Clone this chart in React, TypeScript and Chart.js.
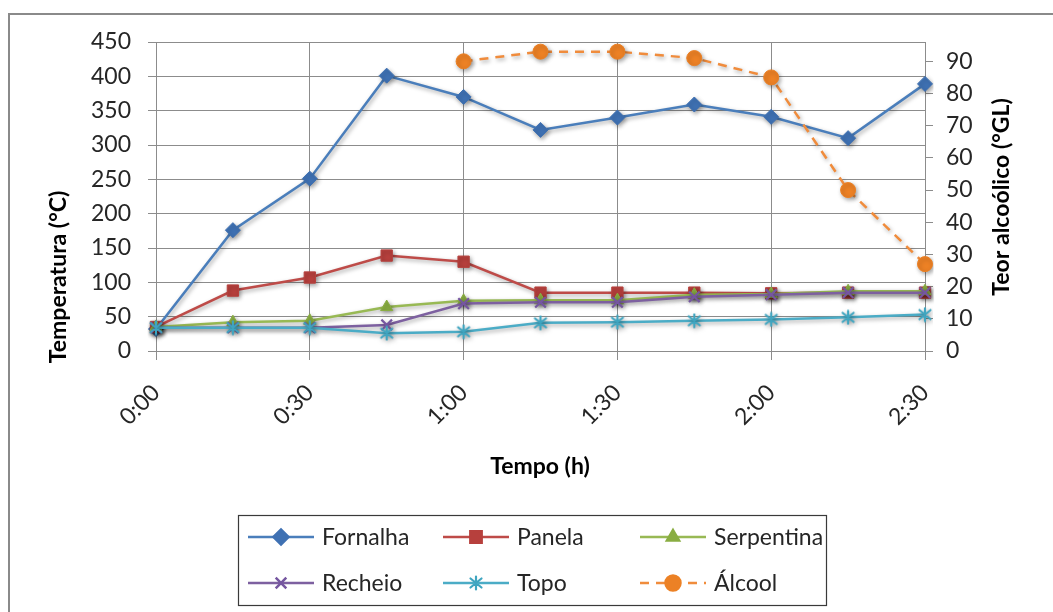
import React, { useEffect, useRef } from 'react';
import { Chart, registerables } from 'chart.js';
import { drawPoint } from 'chart.js/helpers';

Chart.register(...registerables);

const timeLabels = ['0:00', '0:15', '0:30', '0:45', '1:00', '1:15', '1:30', '1:45', '2:00', '2:15', '2:30'];
const fornalha = [32, 176, 251, 401, 370, 322, 340, 359, 341, 310, 389];
const panela = [35, 88, 107, 139, 130, 85, 85, 85, 84, 85, 85];
const serpentina = [35, 42, 44, 64, 73, 74, 74, 82, 83, 87, 87];
const recheio = [34, 34, 34, 38, 69, 71, 71, 79, 82, 85, 85];
const topo = [34, 34, 34, 26, 28, 41, 42, 44, 46, 49, 53];
const alcool = [null, null, null, null, 90, 93, 93, 91, 85, 50, 27];

const leftTicks = { min: 0, max: 450, step: 50 };
const rightTicks = { min: 0, max: 96, step: 10, lastLabel: 90 };

const FONT = 'Lato, "Noto Sans", sans-serif';
const GRID = '#8c8c8c';

function makeAsterisk(color: string): HTMLCanvasElement {
  const c = document.createElement('canvas');
  c.width = 16;
  c.height = 16;
  const g = c.getContext('2d')!;
  g.strokeStyle = color;
  g.lineWidth = 2.2;
  g.lineCap = 'round';
  g.beginPath();
  g.moveTo(8, 1.5); g.lineTo(8, 14.5);
  g.moveTo(2.5, 3.5); g.lineTo(13.5, 12.5);
  g.moveTo(13.5, 3.5); g.lineTo(2.5, 12.5);
  g.stroke();
  return c;
}

export default function App() {
  const ref = useRef<HTMLCanvasElement>(null);

  useEffect(() => {
    document.body.style.margin = '0';
    const canvas = ref.current!;
    const star = makeAsterisk('#3fa5c0');

    const frame = {
      id: 'frame',
      beforeDraw(chart: any) {
        const ctx = chart.ctx;
        ctx.save();
        ctx.fillStyle = '#ffffff';
        ctx.fillRect(0, 0, chart.width, chart.height);
        ctx.strokeStyle = '#8a8a8a';
        ctx.lineWidth = 2;
        ctx.beginPath();
        ctx.moveTo(9, chart.height + 5);
        ctx.lineTo(9, 14);
        ctx.lineTo(chart.width + 5, 14);
        ctx.stroke();
        ctx.restore();
      },
    };

    const shadow = {
      id: 'shadow',
      beforeDatasetsDraw(chart: any) {
        const ctx = chart.ctx;
        ctx.save();
        ctx.shadowColor = 'rgba(0,0,0,0.35)';
        ctx.shadowBlur = 4;
        ctx.shadowOffsetX = 1.5;
        ctx.shadowOffsetY = 2;
      },
      afterDatasetsDraw(chart: any) {
        chart.ctx.restore();
      },
    };

    const titles = {
      id: 'titles',
      afterDraw(chart: any) {
        const ctx = chart.ctx;
        ctx.save();
        ctx.fillStyle = '#000000';
        ctx.font = 'bold 23px ' + FONT;
        ctx.textAlign = 'center';
        ctx.textBaseline = 'middle';
        ctx.save();
        ctx.translate(59, 277);
        ctx.rotate(-Math.PI / 2);
        ctx.fillText('Temperatura (°C)', 0, 0);
        ctx.restore();
        ctx.save();
        ctx.translate(1002, 197);
        ctx.rotate(-Math.PI / 2);
        ctx.fillText('Teor alcoólico (°GL)', 0, 0);
        ctx.restore();
        ctx.fillText('Tempo (h)', 540, 467);
        ctx.restore();
      },
    };

    const legendBox = {
      id: 'legendBox',
      afterDraw(chart: any) {
        const ctx = chart.ctx;
        ctx.save();
        ctx.strokeStyle = '#3a3a3a';
        ctx.lineWidth = 1.2;
        ctx.strokeRect(238.5, 515.5, 588, 90);
        const cols = [248, 443, 640];
        const rows = [537, 583];
        const order = [0, 1, 2, 3, 4, 5];
        order.forEach((di, k) => {
          const ds = chart.data.datasets[di];
          const x = cols[k % 3];
          const y = rows[Math.floor(k / 3)];
          ctx.save();
          ctx.strokeStyle = ds.borderColor;
          ctx.lineWidth = 2.5;
          ctx.setLineDash(ds.borderDash || []);
          ctx.beginPath();
          ctx.moveTo(x, y);
          ctx.lineTo(x + 66, y);
          ctx.stroke();
          ctx.setLineDash([]);
          ctx.fillStyle = ds.pointBackgroundColor;
          ctx.strokeStyle = ds.pointBorderColor;
          drawPoint(ctx, { pointStyle: ds.pointStyle, rotation: 0, radius: ds.pointRadius, borderWidth: ds.pointBorderWidth }, x + 33, y);
          ctx.restore();
          ctx.fillStyle = '#262626';
          ctx.font = '23px ' + FONT;
          ctx.textAlign = 'left';
          ctx.textBaseline = 'middle';
          ctx.fillText(ds.label, x + 74, y + 1);
        });
        ctx.restore();
      },
    };

    const gridColor = (c: any) => (c.index % 2 === 0 ? GRID : 'rgba(0,0,0,0)');

    const chart = new Chart(canvas, {
      type: 'line',
      data: {
        labels: timeLabels,
        datasets: [
          {
            label: 'Fornalha', data: fornalha, yAxisID: 'y', order: 5,
            borderColor: '#4a7ebb', borderWidth: 2.5,
            pointStyle: 'rectRot', pointRadius: 7.5, pointBorderWidth: 1,
            pointBackgroundColor: '#3f71b3', pointBorderColor: '#3f71b3',
          },
          {
            label: 'Panela', data: panela, yAxisID: 'y', order: 4,
            borderColor: '#be4b48', borderWidth: 2.5,
            pointStyle: 'rect', pointRadius: 8, pointBorderWidth: 1,
            pointBackgroundColor: '#b7403d', pointBorderColor: '#b7403d',
          },
          {
            label: 'Serpentina', data: serpentina, yAxisID: 'y', order: 3,
            borderColor: '#98b954', borderWidth: 2.5,
            pointStyle: 'triangle', pointRadius: 7, pointBorderWidth: 1,
            pointBackgroundColor: '#89ad42', pointBorderColor: '#89ad42',
          },
          {
            label: 'Recheio', data: recheio, yAxisID: 'y', order: 2,
            borderColor: '#7d60a0', borderWidth: 2.5,
            pointStyle: 'crossRot', pointRadius: 7.5, pointBorderWidth: 2.2,
            pointBackgroundColor: '#7556a0', pointBorderColor: '#7556a0',
          },
          {
            label: 'Topo', data: topo, yAxisID: 'y', order: 1,
            borderColor: '#4bacc6', borderWidth: 2.5,
            pointStyle: star, pointRadius: 7, pointBorderWidth: 1,
            pointBackgroundColor: '#3fa5c0', pointBorderColor: '#3fa5c0',
          },
          {
            label: 'Álcool', data: alcool, yAxisID: 'y2', order: 0,
            borderColor: '#f08c3c', borderWidth: 2.5, borderDash: [9, 7],
            pointStyle: 'circle', pointRadius: 7.5, pointBorderWidth: 1,
            pointBackgroundColor: '#ec8125', pointBorderColor: '#ec8125',
          },
        ] as any,
      },
      options: {
        responsive: false,
        animation: false,
        events: [],
        layout: { padding: { top: 42, bottom: 161, left: 0, right: 0 } },
        plugins: { legend: { display: false }, tooltip: { enabled: false } },
        elements: { line: { tension: 0 } },
        scales: {
          x: {
            type: 'category',
            offset: false,
            afterFit: (s: any) => { s.height = 100; },
            grid: { color: gridColor, tickColor: gridColor, tickLength: 9, lineWidth: 1 },
            border: { color: GRID, width: 1 },
            ticks: {
              autoSkip: false,
              minRotation: 45,
              maxRotation: 45,
              padding: 19,
              color: '#262626',
              font: { family: FONT, size: 23, lineHeight: 1.2 },
              callback: (_v: any, i: number) => (i % 2 === 0 ? timeLabels[i] : ''),
            },
          },
          y: {
            type: 'linear',
            position: 'left',
            min: leftTicks.min,
            max: leftTicks.max,
            afterFit: (s: any) => { s.width = 156; },
            grid: { color: GRID, tickLength: 8, lineWidth: 1 },
            border: { color: GRID, width: 1 },
            ticks: {
              stepSize: leftTicks.step,
              padding: 17,
              color: '#262626',
              font: { family: FONT, size: 23 },
            },
          },
          y2: {
            type: 'linear',
            position: 'right',
            min: rightTicks.min,
            max: rightTicks.max,
            afterFit: (s: any) => { s.width = 128; },
            afterBuildTicks: (s: any) => { s.ticks = s.ticks.filter((t: any) => t.value <= rightTicks.lastLabel); },
            grid: { drawOnChartArea: false, color: GRID, tickLength: 8, lineWidth: 1 },
            border: { color: GRID, width: 1 },
            ticks: {
              stepSize: rightTicks.step,
              includeBounds: false,
              padding: 13,
              color: '#262626',
              font: { family: FONT, size: 23 },
            },
          },
        },
      } as any,
      plugins: [frame, shadow, titles, legendBox],
    });

    return () => chart.destroy();
  }, []);

  return (
    <div style={{ width: 1053, height: 612, position: 'relative' }}>
      <canvas ref={ref} width={1053} height={612} style={{ display: 'block' }} />
    </div>
  );
}
